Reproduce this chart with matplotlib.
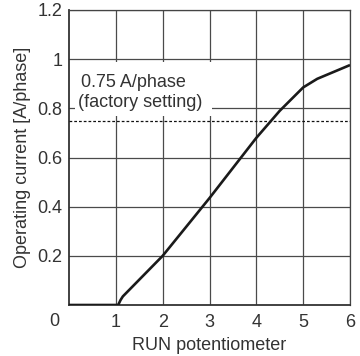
import matplotlib
matplotlib.use("Agg")
import matplotlib.pyplot as plt
from matplotlib.patches import Rectangle

plt.rcParams['font.family'] = ['Liberation Sans', 'DejaVu Sans']

pot = [0, 1.05, 1.1, 1.15, 2, 3, 4, 4.5, 5, 5.3, 6]
current = [0, 0, 0.02, 0.035, 0.2, 0.435, 0.68, 0.79, 0.885, 0.92, 0.976]
factory_current = 0.75
xticks = [1, 2, 3, 4, 5, 6]
yticks = [0.2, 0.4, 0.6, 0.8, 1.0, 1.2]
ytick_labels = ['0.2', '0.4', '0.6', '0.8', '1', '1.2']

FS = 13
fig = plt.figure(figsize=(3.6, 3.56), dpi=100)
ax = fig.add_axes([69/360, 51/356, 281/360, 295/356])
ax.set_xlim(0, 6)
ax.set_ylim(0, 1.2)

tc = '#333333'
ax.set_xticks(xticks)
ax.set_xticklabels([str(v) for v in xticks])
ax.set_yticks(yticks)
ax.set_yticklabels(ytick_labels)
ax.tick_params(axis='x', length=0, pad=6.5, labelsize=FS, labelcolor=tc)
ax.tick_params(axis='y', length=0, pad=4.5, labelsize=FS, labelcolor=tc)
ax.text(-0.035, -0.026, '0', transform=ax.transAxes, ha='right', va='top',
        fontsize=FS, color=tc)

ax.grid(True, color='#4a4a4a', linewidth=0.9, zorder=1)
ax.set_axisbelow(True)
for s in ['top', 'right']:
    ax.spines[s].set_color('#444444')
    ax.spines[s].set_linewidth(0.9)
for s in ['left', 'bottom']:
    ax.spines[s].set_color('#333333')
    ax.spines[s].set_linewidth(1.3)

ax.axhline(factory_current, color='#111111', linewidth=0.9, linestyle=(0, (2.2, 1.6)), zorder=3)

ax.add_patch(Rectangle((0.13, 0.769), 2.92, 0.22, facecolor='white', edgecolor='none', zorder=2))
ax.text(0.25, 0.907, '0.75 A/phase', fontsize=FS, color=tc, va='center', ha='left', zorder=4)
ax.text(0.2, 0.822, '(factory setting)', fontsize=FS, color=tc, va='center', ha='left', zorder=4)

ax.plot(pot, current, color='#1a1a1a', linewidth=1.9, zorder=5, solid_capstyle='butt')

ax.set_xlabel('RUN potentiometer', fontsize=FS, color=tc, labelpad=4)
ax.set_ylabel('Operating current [A/phase]', fontsize=FS, color=tc, labelpad=5)

fig.savefig('out.png', dpi=100)
